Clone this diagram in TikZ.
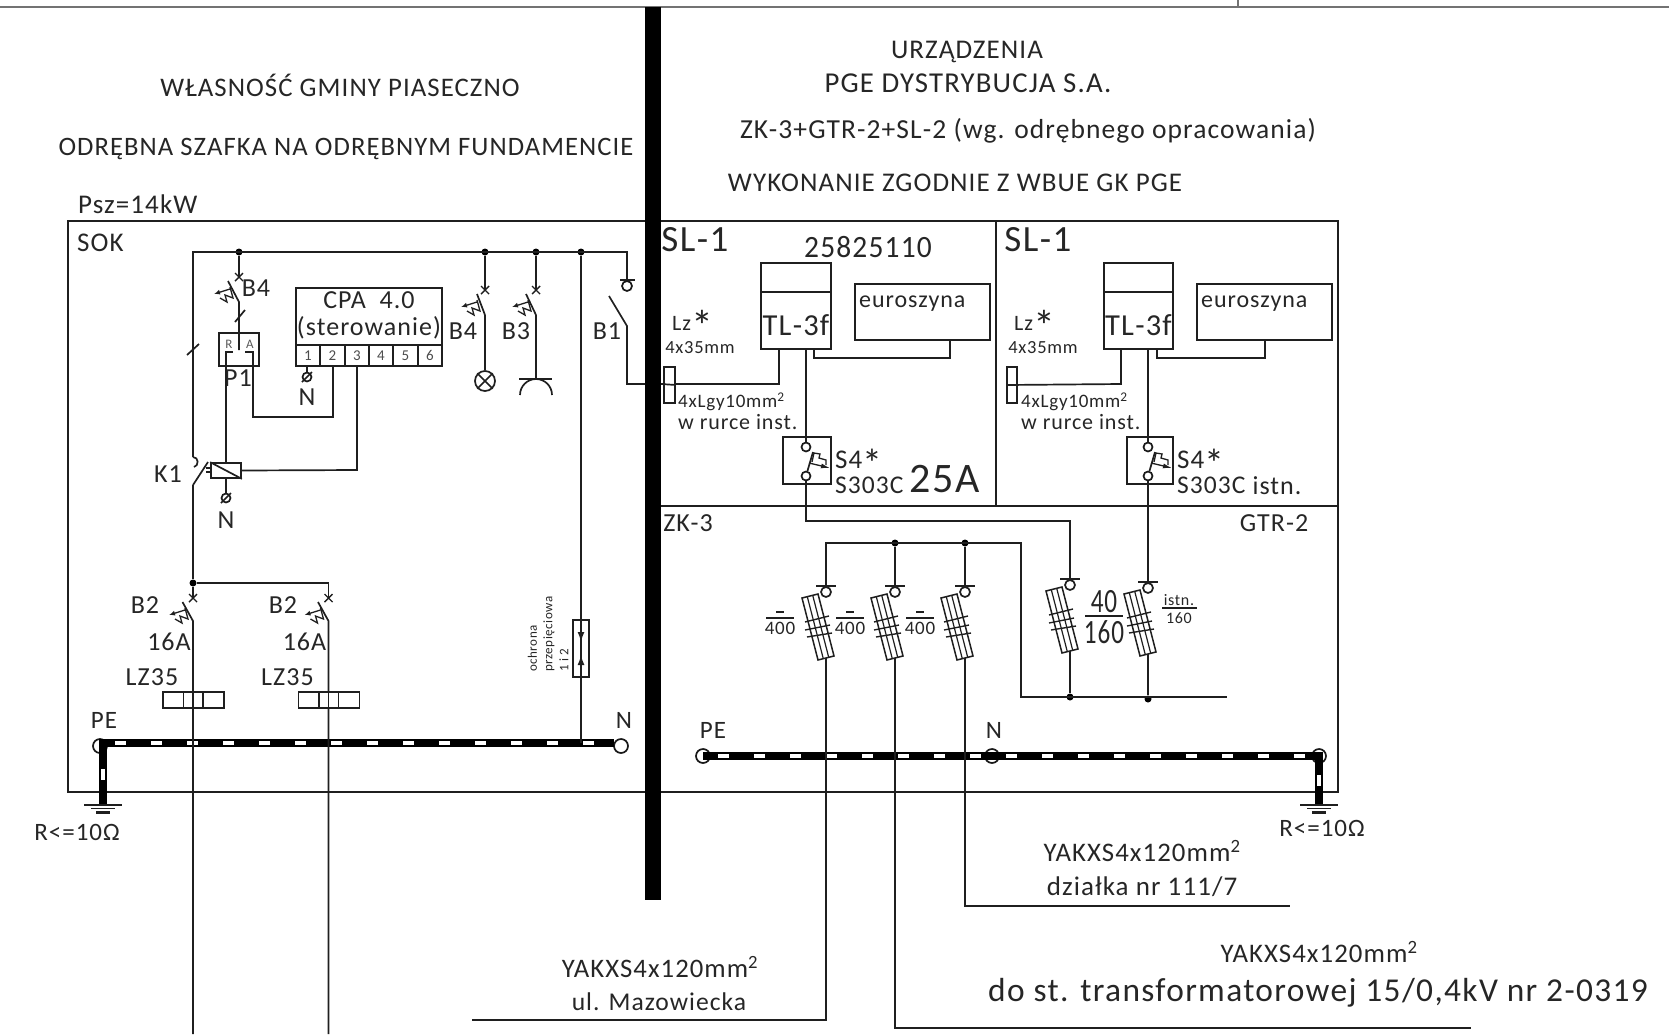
\documentclass[tikz,border=0pt]{standalone}
\usepackage{fontspec}
\setmainfont{Carlito}[LetterSpace=4]
\usetikzlibrary{calc, arrows.meta}

\newcommand{\fsz}[1]{\fontsize{#1}{#1}\selectfont}
\newcommand{\starmark}[2]{\smash{\raisebox{#2}{\fsz{#1}*}}}

\tikzset{
    wire/.style={line width=1.7pt, draw=black!88},
    dotnode/.style={circle, fill=black, inner sep=0pt, minimum size=7pt},
    ring/.style={circle, draw=black!90, line width=1.7pt, fill=white, inner sep=0pt, minimum size=#1},
    ring/.default=9pt,
    cellbox/.style={rectangle, draw=black!88, line width=1.7pt, inner sep=0pt},
    lbl/.style={inner sep=0pt, text=black!85, align=center, font=\fsz{27}},
    lblsmall/.style={lbl, font=\fsz{22}},
    lblmid/.style={lbl, font=\fsz{26}},
    thermal/.pic={
        \draw[wire, line width=1.3pt] (0,0) -- (3,11) -- (-5,8) -- (-3,15) -- (-10,11);
        \draw[wire, line width=1.3pt, -{Latex[length=6pt,width=5pt]}] (0,2) -- (-16,7);
    },
    thermalS/.pic={
        \draw[wire, line width=1.3pt] (3,-1) -- (5,-10) -- (11,-9) -- (10,-5) -- (17,-3) -- (17,2);
        \draw[wire, line width=1.3pt, -{Latex[length=9pt,width=5pt]}] (0,0) -- (21,5);
    },
    xmark/.pic={
        \draw[wire, line width=1.4pt] (-4,-4) -- (4,4) (-4,4) -- (4,-4);
    },
    fuse/.pic={
        \draw[wire] (-10,0) -- (10,0);
        \draw[wire, line width=1.5pt] (-24,12) -- (-8,8) -- (8,70) -- (-8,74) -- cycle;
        \draw[wire, line width=1.2pt] (-18.7,10.7) -- (-2.7,72.7) (-13.3,9.3) -- (2.7,71.3);
        \draw[wire, line width=1.4pt] (-21,36) -- (3,30) (-21,44) -- (4,39) (-19,51) -- (6,47);
        \draw[wire, fill=white] (0,6) circle (5);
    },
    earth/.pic={
        \draw[wire] (-19,0) -- (19,0) (-12,3.5) -- (12,3.5);
        \draw[wire, line width=2.2pt] (-7,7.5) -- (7,7.5);
    },
    pebus/.style={line width=8pt, draw=black},
    pegap/.style={line width=4pt, draw=white, dash pattern=on 11pt off 25pt}
}

\begin{document}
\begin{tikzpicture}[x=1pt, y=-1pt]
    \useasboundingbox (0,0) rectangle (1669,1034);

    % Frames
    \draw[line width=2pt, draw=black!55] (0,6.5) -- (1669,6.5) (1238,0) -- (1238,6.5);
    \draw[wire] (68,221) rectangle (1338,792);
    \draw[wire] (996,221) -- (996,506);
    \draw[wire, line width=2pt] (661,506) -- (1338,506);

    % PE bus left
    \node[ring=14pt] (peL) at (100,746) {};
    \node[ring=14pt] (nL) at (621,746) {};
    \coordinate (peLc) at (103,743);
    \coordinate (peLe) at (103,805);
    \draw[pebus] (peLe) -- (peLc) -- (614,743);
    \draw[pegap] (115,743) -- (614,743);
    \draw[pegap, dash pattern=on 11pt off 40pt] (103,769) -- (103,790);
    \pic at (103,805) {earth};
    \node[lbl, font=\fsz{25}] (peLlbl) at (104,720) {PE};
    \node[lbl, font=\fsz{25}] (nLlbl) at (624,720) {N};
    \node[lbl, font=\fsz{25}] (rL) at (77,832) {R<=10Ω};

    % PE bus right
    \coordinate (peRe) at (1319,805);
    \coordinate (peRc) at (1319,756);
    \node[ring=14pt] (peR) at (703,756) {};
    \node[ring=14pt] (nR) at (992,756) {};
    \node[ring=14pt] (peRr) at (peRc) {};
    \draw[pebus] (703,756) -- (peRc) -- (peRe);
    \draw[pegap] (718,756) -- (1306,756);
    \draw[pegap, dash pattern=on 11pt off 40pt] (1319,775) -- (1319,786);
    \pic at (peRe) {earth};
    \node[lbl, font=\fsz{25}] (peRlbl) at (713,730) {PE};
    \node[lbl, font=\fsz{25}] (nRlbl) at (994,730) {N};
    \node[lbl, font=\fsz{25}] (rR) at (1322,828) {R<=10Ω};

    \fill[black] (645,7) rectangle (661,900);

    % Top captions
    \node[lbl, font=\fsz{26.8}] (ownerA) at (340,85) {WŁASNOŚĆ GMINY PIASECZNO};
    \node[lbl, font=\fsz{26.6}] (ownerB) at (346,149) {ODRĘBNA SZAFKA NA ODRĘBNYM FUNDAMENCIE};
    \node[lbl, anchor=west] (psz) at (78,204) {Psz=14kW};
    \node[lbl, anchor=west] (sok) at (77,243) {SOK};
    \node[lbl] (pgeA) at (967,52) {URZĄDZENIA};
    \node[lbl, font=\fsz{28.8}] (pgeB) at (968,83) {PGE DYSTRYBUCJA S.A.};
    \node[lbl, font=\fsz{27.5}] (pgeC) at (1028,131) {ZK-3+GTR-2+SL-2 (wg. odrębnego opracowania)};
    \node[lbl] (pgeD) at (955,183) {WYKONANIE ZGODNIE Z WBUE GK PGE};

    % Main bus
    \coordinate (busL) at (193,252);
    \coordinate (busR) at (627,252);
    \node[dotnode] (dotA) at (239,252) {};
    \node[dotnode] (dotB) at (485,252) {};
    \node[dotnode] (dotC) at (536,252) {};
    \node[dotnode] (dotD) at (581,252) {};
    \coordinate (k1top) at (193,457);
    \coordinate (k1low) at (193,485);
    \node[dotnode] (dotE) at (193,583) {};
    \draw[wire] (k1top) -- (busL) -- (busR) -- (627,280);
    \draw[wire] (k1low) -- (dotE);
    \draw[wire] (187,355) -- (199,344);
    \draw[wire] (k1low) -- (208,462);
    \draw[wire] (k1top) .. controls (199,457) and (199,466) .. (194,467);
    \draw[wire, line width=1.3pt] (206,468) -- (211,468) (206,472) -- (211,472);

    % Branch with P1
    \coordinate (swA) at (239,302);
    \pic at (239,277) {xmark};
    \draw[wire] (dotA) -- (239,277);
    \draw[wire] (228,281) -- (swA) -- (239,350);
    \draw[wire] (235,322) -- (245,310);
    \pic at (230,287) {thermal};
    \node[lblmid] (lblBa) at (256,288) {B4};
    \node[cellbox, minimum width=40pt, minimum height=33pt] (p1) at (239,349.5) {};
    \node[lbl, font=\fsz{13}, text=black!65] (p1r) at (229,344) {R};
    \node[lbl, font=\fsz{13}, text=black!65] (p1a) at (250,344) {A};
    \node[lblmid] (p1lbl) at (238,378) {P1};

    % CPA
    \node[cellbox, minimum width=146pt, minimum height=78pt] (cpa) at (369,327) {};
    \draw[wire] (296,345) -- (442,345);
    \foreach \cx/\cn in {308/1, 332.5/2, 357/3, 381/4, 405.5/5, 430/6} {
        \node[lbl, font=\fsz{15}, text=black!70] (cell\cn) at (\cx,355.5) {\cn};
    }
    \foreach \cx in {320,345,369,393,418} {
        \draw[wire] (\cx,345) -- (\cx,366);
    }
    \node[lblmid] (cpaA) at (369,300) {CPA\ \ 4.0};
    \node[lblmid] (cpaB) at (369,328) {(sterowanie)};

    % Relay K1
    \node[cellbox, minimum width=30pt, minimum height=15pt] (coil) at (226,470.5) {};
    \draw[wire] (coil.north west) -- (coil.south east);
    \node[lblmid] (k1lbl) at (168,474) {K1};
    \node[ring] (nCoil) at (226,498) {};
    \draw[wire] (221,503) -- (231,493);
    \node[lblmid] (nCoilLbl) at (226,520) {N};
    \draw[wire] (coil.south) -- (nCoil);
    \draw[wire] (coil.north) -- (226,352) -- (233,352);
    \draw[wire] (245,352) -- (253,352) -- (253,417) -- (333,417) -- (333,366);
    \draw[wire] (coil.east) -- (357,470) -- (357,366);
    \node[ring] (nCpa) at (307,377) {};
    \draw[wire] (302,382) -- (312,372);
    \draw[wire] (307,366) -- (nCpa);
    \node[lblmid] (nCpaLbl) at (307,397) {N};

    % Lamp and socket
    \pic at (485,290) {xmark};
    \draw[wire] (dotB) -- (485,290);
    \draw[wire] (477,294) -- (485,315);
    \pic at (477,300) {thermal};
    \node[lblmid] (lblBb) at (463,331) {B4};
    \node[circle, draw=black!88, line width=1.7pt, inner sep=0pt, minimum size=20pt] (lamp) at (485,381) {};
    \draw[wire] (lamp.north west) -- (lamp.south east) (lamp.north east) -- (lamp.south west);
    \draw[wire] (485,315) -- (lamp);
    \pic at (536,290) {xmark};
    \draw[wire] (dotC) -- (536,290);
    \draw[wire] (526,294) -- (536,315);
    \pic at (528,300) {thermal};
    \node[lblmid] (lblBc) at (516,331) {B3};
    \coordinate (sock) at (536,379);
    \draw[wire] (536,315) -- (sock);
    \draw[wire] (519,379) -- (552,379);
    \draw[wire] (520,395) arc (180:360:16);

    % B1
    \draw[wire] (620,280) -- (635,280);
    \node[ring=10pt] (b1ring) at (627,286) {};
    \draw[wire] (609,296) -- (627,326) -- (627,384) -- (645,384);
    \draw[wire] (661,384) -- (779,384) -- (779,349);
    \node[lblmid] (lblBd) at (607,331) {B1};

    % Surge protection
    \node[cellbox, minimum width=16pt, minimum height=57pt] (surge) at (581,648.5) {};
    \draw[wire] (dotD) -- (581,743);
    \draw[wire, -{Latex[length=10pt,width=7pt]}] (surge.north) -- (581,642);
    \draw[wire, -{Latex[length=10pt,width=7pt]}] (surge.south) -- (581,655);
    \node[lbl, rotate=90, anchor=west, font=\fsz{13}] (surgeA) at (532.5,672) {ochrona};
    \node[lbl, rotate=90, anchor=west, font=\fsz{13}] (surgeB) at (549,672) {przepięciowa};
    \node[lbl, rotate=90, anchor=west, font=\fsz{13}] (surgeC) at (564,672) {1 i 2};

    % B2 outlets
    \foreach \bx/\bn/\tx in {193/a/145, 328.5/b/283} {
        \pic at (\bx,598) {xmark};
        \draw[wire] (\bx-10.5,602) -- (\bx,621) -- (\bx,1034);
        \pic at (\bx-8,608) {thermal};
        \node[lblmid] (lblB\bn) at (\tx,605) {B2};
        \node[lblmid] (amp\bn) at (\bx-24,642) {16A};
        \node[lblmid] (lz\bn) at (\bx-41,677) {LZ35};
        \node[cellbox, minimum width=61pt, minimum height=16pt, fill=white] (term\bn) at (\bx+0.5,700) {};
        \draw[wire] (\bx-9.5,692) -- (\bx-9.5,708) (\bx+10,692) -- (\bx+10,708);
        \draw[wire] (term\bn.north -| \bx,0) -- (term\bn.south -| \bx,0);
    }
    \draw[wire] (dotE) -- (328.5,583) -- (328.5,598);
    \draw[wire] (dotE) -- (193,598);

    % SL-1 left
    \node[lbl, font=\fsz{37}] (slA) at (695,240) {SL-1};
    \node[lbl, font=\fsz{31}] (meter) at (868,247) {\scalebox{0.95}[1]{25825110}};
    \node[cellbox, minimum width=70pt, minimum height=86pt] (tlA) at (796,306) {};
    \draw[wire] (761,292) -- (831,292);
    \node[lbl, font=\fsz{30.5}] (tlAlbl) at (796,325) {TL-3f};
    \node[cellbox, minimum width=135pt, minimum height=56pt] (euroA) at (922.5,312) {};
    \node[lblsmall, anchor=west, font=\fsz{24}] (euroAlbl) at (859,304) {euroszyna};
    \draw[wire] (814,349) -- (814,358) -- (950,358) -- (950,340);
    \node[cellbox, minimum width=11pt, minimum height=36pt, fill=white] (lgyA) at (669.5,385) {};
    \draw[wire] (661,384) -- (lgyA.east);
    \node[lblsmall, anchor=west] (lzA) at (672,323) {Lz\starmark{44}{-11pt}};
    \node[lblsmall, font=\fsz{18.5}] (mmA) at (700,348) {4x35mm};
    \node[lblsmall, anchor=west, font=\fsz{19}] (lgyAa) at (678,402) {4xLgy10mm\textsuperscript{2}};
    \node[lblsmall, anchor=west] (lgyAb) at (678,422) {w rurce inst.};

    % S4 left
    \node[cellbox, minimum width=48pt, minimum height=47pt] (sfA) at (807,460.5) {};
    \node[ring] (sfAa) at (806,447) {};
    \node[ring] (sfAb) at (806,476) {};
    \draw[wire] (806,349) -- (sfAa);
    \draw[wire] (sfAb) -- (813,452);
    \pic at (809,463) {thermalS};
    \coordinate (fD) at (1070,579);
    \draw[wire] (sfAb) -- (806,521) -- (1070,521) -- (fD);
    \node[lbl, anchor=west] (sfAlblA) at (835,460) {S4\starmark{40}{-9pt}};
    \node[lbl, anchor=west, font=\fsz{25.5}] (sfAlblB) at (835,485) {S303C};
    \node[lbl, font=\fsz{42}] (amp25) at (945,479) {25A};

    % SL-1 right
    \node[lbl, font=\fsz{37}] (slB) at (1038,240) {SL-1};
    \node[cellbox, minimum width=69pt, minimum height=86pt] (tlB) at (1138.5,306) {};
    \draw[wire] (1104,292) -- (1173,292);
    \node[lbl, font=\fsz{30.5}] (tlBlbl) at (1138.5,325) {TL-3f};
    \node[cellbox, minimum width=135pt, minimum height=56pt] (euroB) at (1264.5,312) {};
    \node[lblsmall, anchor=west, font=\fsz{24}] (euroBlbl) at (1201,304) {euroszyna};
    \draw[wire] (1157,349) -- (1157,358) -- (1265,358) -- (1265,340);
    \node[cellbox, minimum width=10pt, minimum height=36pt, fill=white] (lgyB) at (1012,385) {};
    \draw[wire] (lgyB.west) -- (1121,384) -- (1121,349);
    \node[lblsmall, anchor=west] (lzB) at (1014,323) {Lz\starmark{44}{-11pt}};
    \node[lblsmall, font=\fsz{18.5}] (mmB) at (1043,348) {4x35mm};
    \node[lblsmall, anchor=west, font=\fsz{19}] (lgyBa) at (1021,402) {4xLgy10mm\textsuperscript{2}};
    \node[lblsmall, anchor=west] (lgyBb) at (1021,422) {w rurce inst.};

    % S4 right
    \node[cellbox, minimum width=46pt, minimum height=47pt] (sfB) at (1150,460.5) {};
    \node[ring] (sfBa) at (1148,447) {};
    \node[ring] (sfBb) at (1148,476) {};
    \draw[wire] (1148,349) -- (sfBa);
    \draw[wire] (sfBb) -- (1155,452);
    \pic at (1151,463) {thermalS};
    \coordinate (fE) at (1148,582);
    \draw[wire] (sfBb) -- (fE);
    \node[lbl, anchor=west] (sfBlblA) at (1177,460) {S4\starmark{40}{-9pt}};
    \node[lbl, anchor=west, font=\fsz{25.5}] (sfBlblB) at (1177,485) {S303C};
    \node[lbl, font=\fsz{26}] (istn) at (1277,486) {istn.};

    % Switchgear labels
    \node[lblmid] (zk) at (688,523) {ZK-3};
    \node[lblmid] (gtr) at (1274,523) {GTR-2};

    % Fuses
    \coordinate (fA) at (826,586);
    \coordinate (fB) at (895,586);
    \coordinate (fC) at (965,586);
    \node[dotnode] (dotF) at (895,543) {};
    \node[dotnode] (dotG) at (965,543) {};
    \node[dotnode] (dotH) at (1070,697) {};
    \node[dotnode] (dotJ) at (1148,699) {};
    \draw[wire] (fA) -- (826,543) -- (1021,543) -- (1021,697) -- (1227,697);
    \draw[wire] (dotF) -- (fB);
    \draw[wire] (dotG) -- (fC);
    \draw[wire] (1070,651) -- (dotH);
    \draw[wire] (1148,654) -- (dotJ);
    \draw[wire] (826,658) -- (826,1020) -- (472,1020);
    \draw[wire] (895,658) -- (895,1028) -- (1471,1028);
    \draw[wire] (965,658) -- (965,906) -- (1290,906);
    \foreach \fname in {fA,fB,fC,fD,fE} {
        \pic at (\fname) {fuse};
    }

    % Fuse ratings
    \foreach \rx/\rn in {780/a, 850/b, 920/c} {
        \draw[wire] (\rx-14,618) -- (\rx+14,618);
        \draw[wire] (\rx-4,612) -- (\rx+4,612);
        \node[lblsmall, font=\fsz{19}] (rate\rn) at (\rx,628) {400};
    }
    \draw[wire] (1085,616) -- (1123,616);
    \node[lbl, font=\fsz{34}] (rateD) at (1104,602) {\scalebox{0.74}[1]{40}};
    \node[lbl, font=\fsz{34}] (rateE) at (1104,632) {\scalebox{0.74}[1]{160}};
    \draw[wire] (1162,608) -- (1197,608);
    \node[lbl, font=\fsz{16}] (rateF) at (1179,600) {istn.};
    \node[lbl, font=\fsz{16}] (rateG) at (1179,618) {160};

    % Cable captions
    \node[lbl, font=\fsz{26.8}] (cabA) at (1142,851) {YAKXS4x120mm\textsuperscript{2}};
    \node[lbl, font=\fsz{27}] (cabAb) at (1142,887) {działka nr 111/7};
    \node[lbl, font=\fsz{26.7}] (cabB) at (660,967) {YAKXS4x120mm\textsuperscript{2}};
    \node[lbl, font=\fsz{25.6}] (cabBb) at (659,1002) {ul. Mazowiecka};
    \node[lbl, font=\fsz{26.8}] (cabC) at (1319,952) {YAKXS4x120mm\textsuperscript{2}};
    \node[lbl, font=\fsz{33.4}] (cabCb) at (1318,993) {do st. transformatorowej 15/0,4kV nr 2-0319};
\end{tikzpicture}
\end{document}
